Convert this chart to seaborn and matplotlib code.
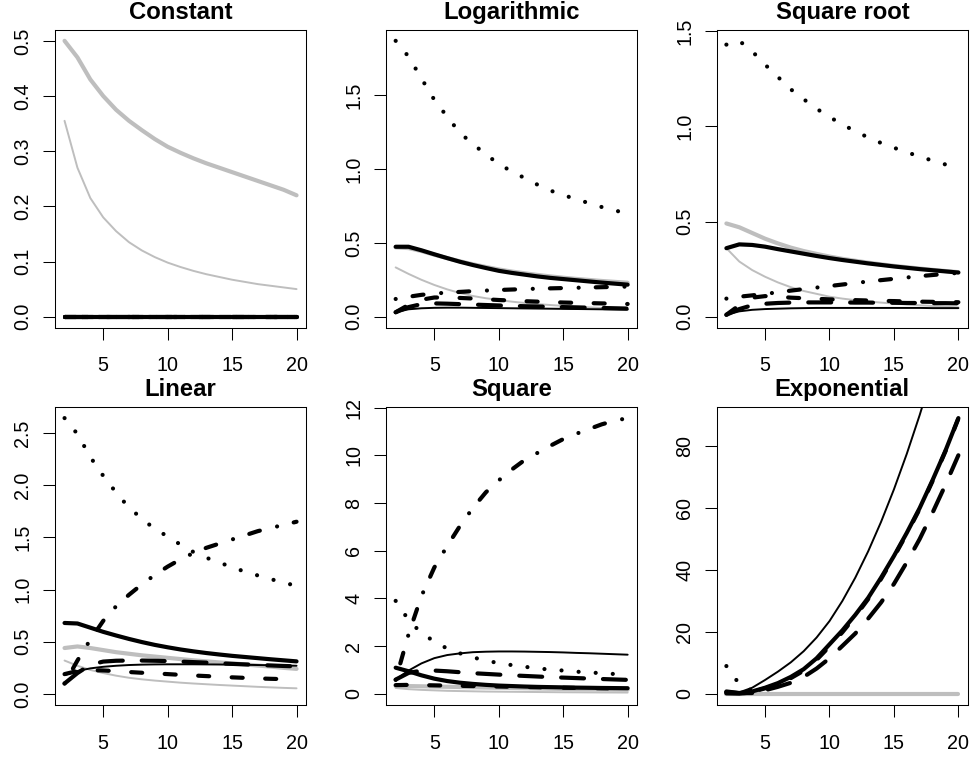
import matplotlib
matplotlib.use("Agg")
import matplotlib.pyplot as plt
from matplotlib.ticker import FormatStrFormatter
import seaborn as sns

sns.set_style("ticks")
plt.rcParams['font.family'] = ['Liberation Sans', 'DejaVu Sans']

# ---------------------------------------------------------------------
# data, x = 2..20
# ---------------------------------------------------------------------
x = list(range(2, 21))
NA = float('nan')

titles = ["Constant", "Logarithmic", "Square root", "Linear", "Square", "Exponential"]

constant = {
    "grey_thick": [0.50, 0.47, 0.43, 0.40, 0.375, 0.355, 0.338, 0.322, 0.308, 0.297,
                   0.287, 0.278, 0.27, 0.262, 0.254, 0.246, 0.238, 0.23, 0.22],
    "grey_thin": [0.355, 0.27, 0.215, 0.18, 0.155, 0.135, 0.12, 0.108, 0.098, 0.09,
                  0.083, 0.077, 0.072, 0.067, 0.063, 0.059, 0.056, 0.053, 0.05],
    "black_thick": [0.0] * 19,
    "black_thin": [0.0] * 19,
    "dotted": [0.0] * 19,
    "dashdot": [0.0] * 19,
    "dashed": [0.0] * 19,
    "longdash": [0.0] * 19,
}

logarithmic = {
    "grey_thick": [0.47, 0.465, 0.445, 0.42, 0.397, 0.375, 0.355, 0.337, 0.32, 0.306,
                   0.294, 0.283, 0.273, 0.264, 0.256, 0.249, 0.242, 0.236, 0.23],
    "grey_thin": [0.334, 0.29, 0.25, 0.215, 0.185, 0.16, 0.14, 0.125, 0.113, 0.102,
                  0.093, 0.085, 0.079, 0.073, 0.068, 0.063, 0.059, 0.055, 0.052],
    "black_thick": [0.474, 0.474, 0.45, 0.423, 0.397, 0.372, 0.35, 0.33, 0.311, 0.297,
                    0.285, 0.273, 0.263, 0.255, 0.247, 0.239, 0.231, 0.224, 0.217],
    "black_thin": [0.03, 0.05, 0.057, 0.06, 0.061, 0.061, 0.06, 0.059, 0.058, 0.057,
                   0.056, 0.055, 0.054, 0.053, 0.052, 0.051, 0.05, 0.049, 0.048],
    "dotted": [1.87, 1.763, 1.615, 1.47, 1.355, 1.245, 1.17, 1.10, 1.035, 0.985,
               0.94, 0.895, 0.855, 0.825, 0.796, 0.77, 0.743, 0.72, 0.70],
    "dashdot": [0.12, 0.135, 0.148, 0.157, 0.163, 0.168, 0.173, 0.177, 0.181, 0.184,
                0.187, 0.19, 0.192, 0.194, 0.196, 0.198, 0.2, 0.202, 0.204],
    "dashed": [0.03, 0.08, 0.115, 0.13, 0.13, 0.127, 0.123, 0.118, 0.113, 0.109,
               0.105, 0.102, 0.099, 0.096, 0.094, 0.092, 0.09, 0.088, 0.086],
    "longdash": [0.03, 0.065, 0.085, 0.09, 0.088, 0.085, 0.082, 0.079, 0.076, 0.073,
                 0.071, 0.069, 0.067, 0.065, 0.063, 0.061, 0.059, 0.057, 0.055],
}

square_root = {
    "grey_thick": [0.49, 0.47, 0.44, 0.41, 0.385, 0.363, 0.345, 0.33, 0.316, 0.304,
                   0.294, 0.284, 0.275, 0.267, 0.26, 0.253, 0.246, 0.24, 0.234],
    "grey_thin": [0.36, 0.29, 0.245, 0.21, 0.18, 0.155, 0.135, 0.12, 0.105, 0.095,
                  0.087, 0.08, 0.074, 0.069, 0.064, 0.06, 0.056, 0.052, 0.049],
    "black_thick": [0.36, 0.38, 0.377, 0.368, 0.355, 0.343, 0.331, 0.319, 0.308, 0.298,
                    0.289, 0.28, 0.272, 0.264, 0.257, 0.25, 0.244, 0.238, 0.232],
    "black_thin": [0.01, 0.028, 0.036, 0.04, 0.042, 0.044, 0.045, 0.046, 0.046, 0.046,
                   0.046, 0.046, 0.046, 0.046, 0.046, 0.046, 0.045, 0.045, 0.045],
    "dotted": [1.43, 1.45, 1.395, 1.325, 1.26, 1.195, 1.143, 1.093, 1.05, 1.01,
               0.975, 0.942, 0.913, 0.888, 0.864, 0.842, 0.82, 0.80, 0.78],
    "dashdot": [0.095, 0.105, 0.112, 0.12, 0.128, 0.137, 0.145, 0.153, 0.161, 0.169,
                0.177, 0.185, 0.192, 0.199, 0.206, 0.213, 0.219, 0.225, 0.23],
    "dashed": [0.01, 0.06, 0.10, 0.108, 0.105, 0.10, 0.097, 0.094, 0.091, 0.089,
               0.087, 0.085, 0.083, 0.082, 0.08, 0.079, 0.078, 0.077, 0.076],
    "longdash": [0.01, 0.04, 0.06, 0.068, 0.072, 0.074, 0.075, 0.075, 0.075, 0.075,
                 0.074, 0.074, 0.073, 0.073, 0.072, 0.072, 0.071, 0.071, 0.07],
}

linear = {
    "grey_thick": [0.44, 0.455, 0.44, 0.42, 0.40, 0.385, 0.37, 0.358, 0.346, 0.334,
                   0.322, 0.312, 0.302, 0.293, 0.283, 0.272, 0.262, 0.25, 0.24],
    "grey_thin": [0.32, 0.27, 0.23, 0.20, 0.175, 0.155, 0.14, 0.128, 0.118, 0.108,
                  0.10, 0.093, 0.086, 0.08, 0.074, 0.068, 0.063, 0.058, 0.054],
    "black_thick": [0.68, 0.675, 0.635, 0.595, 0.56, 0.527, 0.497, 0.47, 0.447, 0.426,
                    0.408, 0.392, 0.378, 0.365, 0.354, 0.343, 0.332, 0.322, 0.312],
    "black_thin": [0.18, 0.22, 0.245, 0.26, 0.27, 0.277, 0.281, 0.283, 0.284, 0.284,
                   0.284, 0.283, 0.282, 0.28, 0.279, 0.277, 0.275, 0.273, 0.27],
    "dotted": [2.643, 2.49, 2.27, 2.09, 1.93, 1.785, 1.68, 1.58, 1.51, 1.43,
               1.36, 1.305, 1.26, 1.213, 1.172, 1.135, 1.10, 1.067, 1.035],
    "dashdot": [0.10, 0.32, 0.52, 0.70, 0.84, 0.95, 1.05, 1.14, 1.22, 1.29,
                1.35, 1.40, 1.44, 1.48, 1.52, 1.56, 1.59, 1.62, 1.65],
    "dashed": [0.19, 0.22, 0.228, 0.225, 0.218, 0.21, 0.203, 0.197, 0.19, 0.183,
               0.177, 0.171, 0.165, 0.159, 0.154, 0.149, 0.145, 0.142, 0.14],
    "longdash": [0.10, 0.20, 0.28, 0.31, 0.318, 0.32, 0.32, 0.318, 0.315, 0.31,
                 0.305, 0.30, 0.294, 0.288, 0.283, 0.278, 0.273, 0.268, 0.264],
}

square = {
    "grey_thick": [0.33, 0.33, 0.32, 0.31, 0.30, 0.29, 0.28, 0.27, 0.26, 0.25,
                   0.24, 0.23, 0.22, 0.21, 0.20, 0.195, 0.19, 0.185, 0.18],
    "grey_thin": [0.25, 0.20, 0.17, 0.15, 0.13, 0.12, 0.11, 0.10, 0.095, 0.09,
                  0.085, 0.08, 0.075, 0.07, 0.068, 0.065, 0.062, 0.06, 0.058],
    "black_thick": [1.10, 0.95, 0.78, 0.64, 0.54, 0.47, 0.42, 0.38, 0.35, 0.33,
                    0.31, 0.295, 0.285, 0.275, 0.265, 0.258, 0.25, 0.245, 0.24],
    "black_thin": [0.60, 0.98, 1.28, 1.50, 1.63, 1.70, 1.75, 1.77, 1.78, 1.78,
                   1.775, 1.765, 1.755, 1.74, 1.72, 1.705, 1.685, 1.665, 1.645],
    "dotted": [3.90, 3.10, 2.55, 2.20, 1.90, 1.70, 1.53, 1.40, 1.29, 1.21,
               1.14, 1.07, 1.02, 0.98, 0.935, 0.90, 0.87, 0.835, 0.80],
    "dashdot": [0.59, 2.50, 4.10, 5.30, 6.20, 7.05, 7.80, 8.45, 8.95, 9.40,
                9.80, 10.10, 10.40, 10.68, 10.90, 11.10, 11.30, 11.45, 11.56],
    "dashed": [0.37, 0.38, 0.37, 0.36, 0.35, 0.34, 0.33, 0.32, 0.31, 0.30,
               0.29, 0.28, 0.27, 0.26, 0.252, 0.245, 0.238, 0.232, 0.226],
    "longdash": [0.60, 0.88, 0.98, 0.98, 0.95, 0.91, 0.87, 0.84, 0.81, 0.78,
                 0.755, 0.73, 0.705, 0.685, 0.665, 0.645, 0.625, 0.607, 0.59],
}

# dotted and dash-dot only show up at the first few sizes here
exponential = {
    "grey_thick": [0.0] * 19,
    "grey_thin": [0.0] * 19,
    "black_thick": [0.8, 0.3, 0.8, 2.0, 3.5, 5.5, 8.0, 11.5, 16.0, 20.5,
                    25.5, 31.0, 37.5, 44.5, 52.0, 60.0, 69.0, 78.5, 89.0],
    "black_thin": [0.8, 0.5, 2.0, 4.5, 7.2, 10.2, 13.8, 18.2, 23.5, 30.0,
                   37.5, 46.0, 55.5, 66.0, 77.5, 90.0, 103.5, 118.0, 133.5],
    "dotted": [9.0, 3.2, 1.0] + [NA] * 16,
    "dashdot": [0.5, 0.3, 0.3] + [NA] * 16,
    "dashed": [0.6, 0.25, 0.7, 1.8, 3.2, 5.1, 7.5, 11.0, 15.3, 19.9,
               25.0, 30.6, 37.1, 44.2, 51.7, 59.7, 68.7, 78.3, 88.8],
    "longdash": [0.2, 0.1, 0.5, 1.2, 2.3, 3.6, 5.5, 8.2, 11.5, 15.5,
                 19.5, 24.3, 29.5, 35.5, 42.5, 50.0, 58.5, 67.5, 77.0],
}

panel_data = [constant, logarithmic, square_root, linear, square, exponential]

x_ticks = [5, 10, 15, 20]
y_ticks = [
    [0.0, 0.1, 0.2, 0.3, 0.4, 0.5],
    [0.0, 0.5, 1.0, 1.5],
    [0.0, 0.5, 1.0, 1.5],
    [0.0, 0.5, 1.0, 1.5, 2.0, 2.5],
    [0, 2, 4, 6, 8, 10, 12],
    [0, 20, 40, 60, 80],
]
y_fmt = ['%.1f', '%.1f', '%.1f', '%.1f', '%d', '%d']
# the exponential panel is scaled to the thick black curve only
ylim_series = {"Exponential": "black_thick"}

# ---------------------------------------------------------------------
# line styles (R-like lty / lwd)
# ---------------------------------------------------------------------
GREY = '#BEBEBE'
THICK, THIN = 3.0, 1.4
styles = {
    "grey_thick": dict(color=GREY, linewidth=THICK, linestyle='-'),
    "grey_thin": dict(color=GREY, linewidth=THIN, linestyle='-'),
    "black_thick": dict(color='black', linewidth=THICK, linestyle='-'),
    "black_thin": dict(color='black', linewidth=THIN, linestyle='-'),
    "dotted": dict(color='black', linewidth=THICK, linestyle=(0, (0.01, 4.1))),
    "dashdot": dict(color='black', linewidth=THICK, linestyle=(0, (0.01, 4.1, 2.65, 4.25))),
    "dashed": dict(color='black', linewidth=THICK, linestyle=(0, (2.65, 5.4))),
    "longdash": dict(color='black', linewidth=THICK, linestyle=(0, (5.5, 4.55))),
}

fig = plt.figure(figsize=(9.73, 7.6), dpi=100)
lefts = [0.0568, 0.3971, 0.7370]
bottoms = [0.5688, 0.0724]
w, h = 0.2575, 0.392

for i, (title, data) in enumerate(zip(titles, panel_data)):
    ax = fig.add_axes([lefts[i % 3], bottoms[i // 3], w, h])
    for name, vals in data.items():
        st = styles[name]
        sns.lineplot(x=x, y=vals, ax=ax, errorbar=None, legend=False,
                     color=st['color'], linewidth=st['linewidth'], linestyle=st['linestyle'],
                     dash_capstyle='round', solid_capstyle='round',
                     solid_joinstyle='round', dash_joinstyle='round')

    if title in ylim_series:
        ymax = max(data[ylim_series[title]])
    else:
        ymax = max(max(v) for v in data.values())
    ax.set_ylim(-0.04 * ymax, 1.04 * ymax)
    ax.set_xlim(2 - 0.04 * 18, 20 + 0.04 * 18)

    ax.set_xticks(x_ticks)
    ax.set_yticks(y_ticks[i])
    ax.yaxis.set_major_formatter(FormatStrFormatter(y_fmt[i]))
    ax.set_xlabel('')
    ax.set_ylabel('')
    ax.tick_params(axis='both', direction='out', length=8.6, width=0.75,
                   labelsize=14.25, colors='black')
    ax.tick_params(axis='x', pad=12)
    ax.tick_params(axis='y', pad=8, labelrotation=90)
    for lab in ax.get_yticklabels():
        lab.set_va('center')
    for sp in ax.spines.values():
        sp.set_visible(True)
        sp.set_linewidth(0.75)
        sp.set_color('black')
    ax.set_title(title, fontsize=17.2, fontweight='bold', color='black', pad=8)

fig.savefig('out.png', dpi=100)
